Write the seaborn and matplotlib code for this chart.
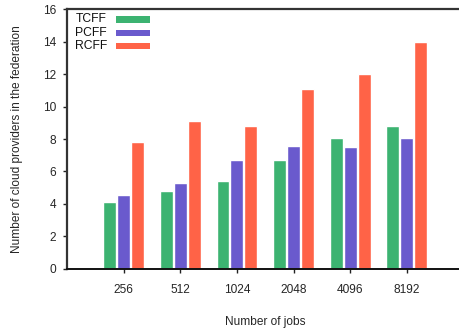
import matplotlib
matplotlib.use("Agg")
import matplotlib.pyplot as plt
from matplotlib.patches import Rectangle
import pandas as pd
import seaborn as sns

jobs = ["256", "512", "1024", "2048", "4096", "8192"]
tcff = [4.1, 4.8, 5.4, 6.7, 8.05, 8.8]
pcff = [4.55, 5.3, 6.7, 7.55, 7.5, 8.05]
rcff = [7.8, 9.1, 8.8, 11.05, 12.0, 14.0]
methods = ["TCFF", "PCFF", "RCFF"]
colors = ["#3cb371", "#6a5acd", "#ff6347"]

df = pd.DataFrame({
    "jobs": jobs * 3,
    "method": [m for m in methods for _ in jobs],
    "providers": tcff + pcff + rcff,
})

sns.set_style("ticks")
plt.rcParams["font.family"] = ["Liberation Sans", "DejaVu Sans"]

fig = plt.figure(figsize=(4.59, 3.29), dpi=100)
ax = fig.add_axes([0.146, 0.1824, 0.864, 0.7902])

sns.barplot(data=df, x="jobs", y="providers", hue="method", order=jobs,
            hue_order=methods, palette=colors, width=0.74, gap=0.07,
            saturation=1, legend=False, ax=ax)

ax.set_xlim(-1.0, 6.0)
ax.set_ylim(0, 16)
ax.set_yticks(range(0, 17, 2))
ax.set_xlabel("Number of jobs", fontsize=8.6, labelpad=14)
ax.set_ylabel("Number of cloud providers in the federation", fontsize=8.6, labelpad=14)
ax.tick_params(axis="both", labelsize=8.6, length=3, width=1, color="#222222")
ax.tick_params(axis="x", pad=8)
ax.tick_params(axis="y", pad=5)

for side in ["left", "top"]:
    ax.spines[side].set_visible(True)
    ax.spines[side].set_color("#333333")
    ax.spines[side].set_linewidth(1.6)
ax.spines["bottom"].set_color("#111111")
ax.spines["bottom"].set_linewidth(1.4)
ax.spines["right"].set_visible(False)

# Legend: label text on the left, colour swatch on the right
row_y = [0.960, 0.908, 0.858]
for name, col, y in zip(methods, colors, row_y):
    ax.text(0.021, y, name, transform=ax.transAxes, fontsize=8.7,
            ha="left", va="center", color="#111111")
    ax.add_patch(Rectangle((0.1235, y - 0.0125), 0.0855, 0.025,
                           transform=ax.transAxes, facecolor=col,
                           edgecolor="none", clip_on=False))

fig.savefig("out.png", dpi=100)
